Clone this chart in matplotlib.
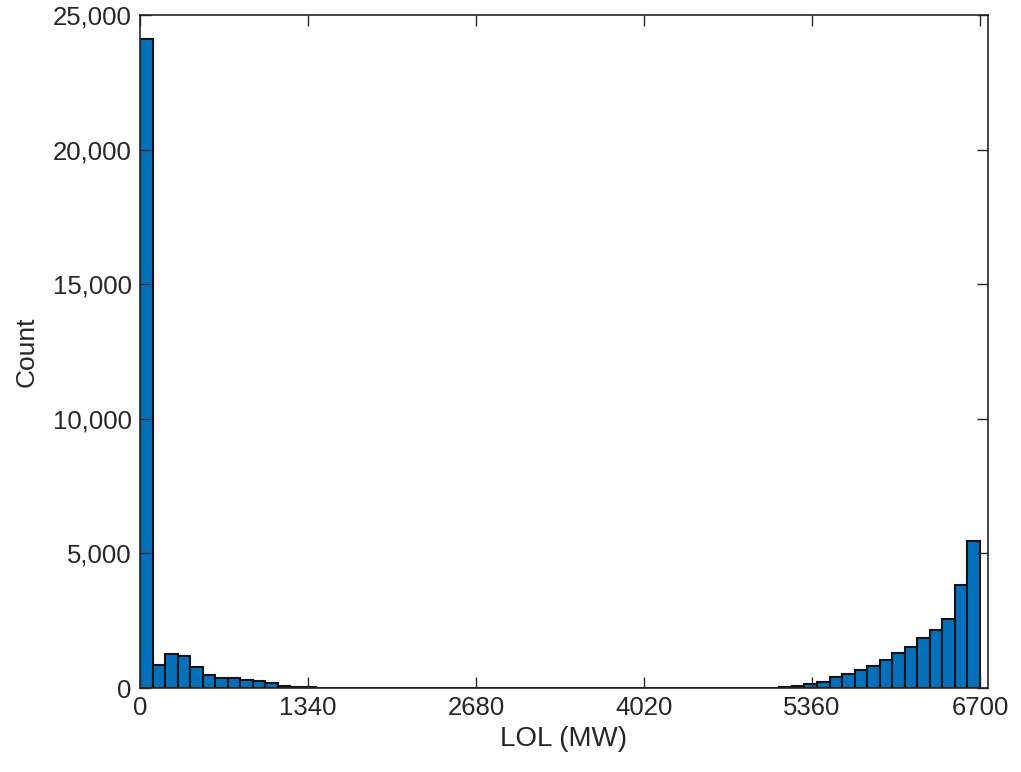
import numpy as np
import matplotlib
matplotlib.use('Agg')
import matplotlib.pyplot as plt
from matplotlib.ticker import FuncFormatter

# Histogram of loss of load, bin width 100 MW
bin_width = 100
counts = [24100, 850, 1250, 1200, 790, 480, 385, 360, 300, 270, 170, 85, 40, 20, 10, 5,
          0, 0, 0, 0, 0, 0, 0, 0, 0, 0, 0, 0, 0, 0, 0, 0, 0,
          0, 0, 0, 0, 0, 0, 0, 0, 0, 0, 0, 0, 0, 0, 0, 0, 0,
          10, 30, 85, 150, 235, 400, 520, 670, 820, 1040, 1290, 1510, 1845, 2140, 2575, 3830, 5470]
x_ticks = [0, 1340, 2680, 4020, 5360, 6700]
y_ticks = [0, 5000, 10000, 15000, 20000, 25000]

left_edges = np.arange(len(counts)) * bin_width

plt.rcParams['font.family'] = ['Liberation Sans', 'DejaVu Sans']
txt = '#262626'

fig = plt.figure(figsize=(10.21, 7.72), dpi=100)
ax = fig.add_axes([140 / 1021, 1 - 688 / 772, 848 / 1021, 673 / 772])

ax.bar(left_edges, counts, width=bin_width, align='edge', color='#0072BD',
       edgecolor='#111111', linewidth=1.5)

ax.set_xlim(0, 6764)
ax.set_ylim(0, 25000)
ax.set_xticks(x_ticks)
ax.set_yticks(y_ticks)
ax.yaxis.set_major_formatter(FuncFormatter(lambda v, p: f'{int(v):,}'))

ax.tick_params(direction='in', length=8, width=1, top=True, right=True,
               labelsize=18.5, colors=txt, pad=6)
for s in ax.spines.values():
    s.set_color(txt)
    s.set_linewidth(1.2)

ax.set_xlabel('LOL (MW)', fontsize=20, color=txt, labelpad=4)
ax.set_ylabel('Count', fontsize=19, color=txt, labelpad=10)

fig.savefig('out.png', dpi=100)
